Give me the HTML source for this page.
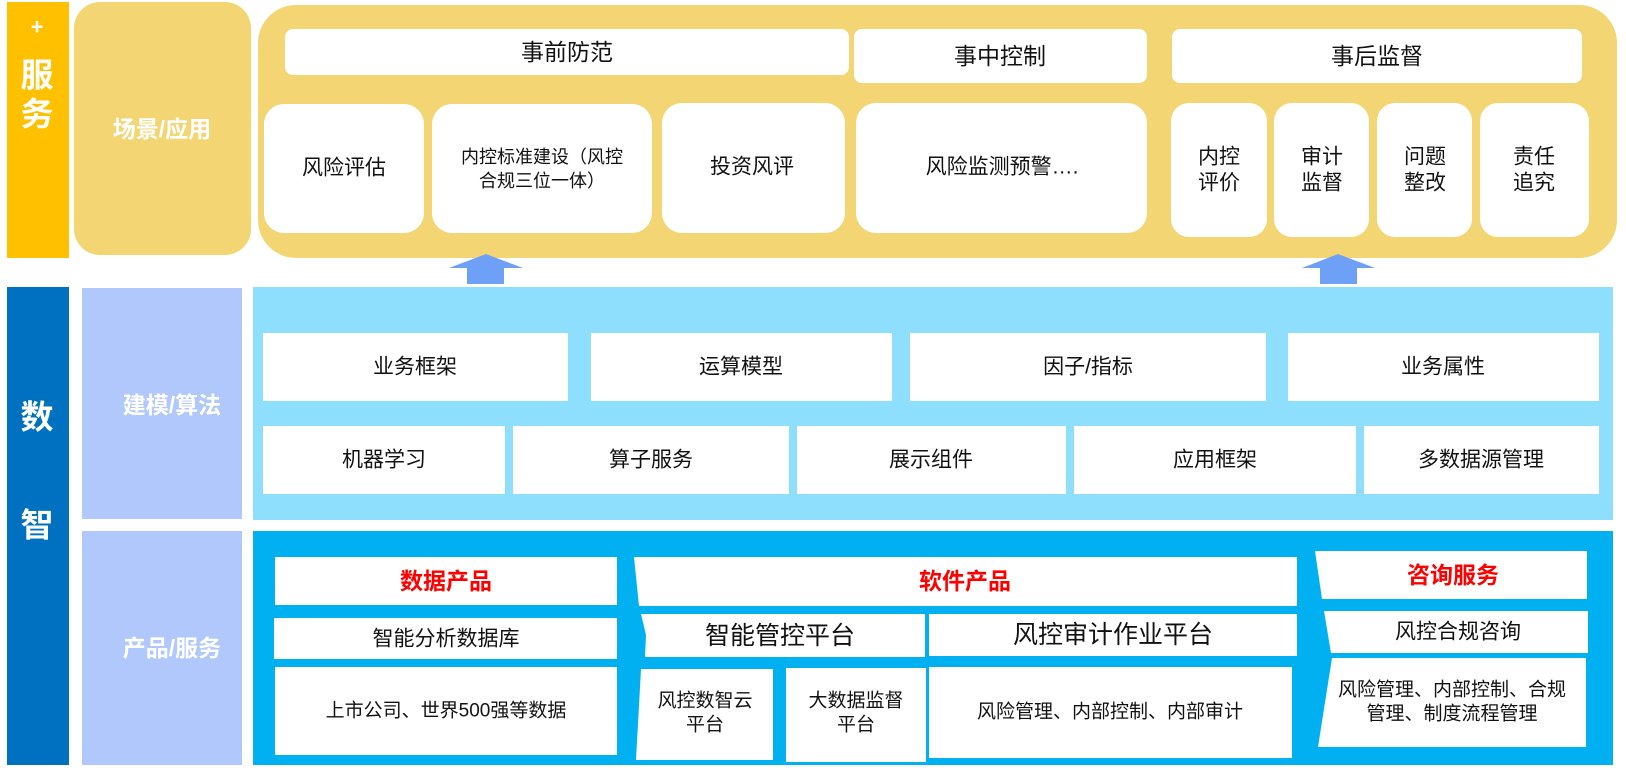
<!DOCTYPE html>
<html><head><meta charset="utf-8"><style>
html,body{margin:0;padding:0;background:#fff;}
svg{display:block;}
text{font-family:"Liberation Sans","Noto Sans CJK SC",sans-serif;text-anchor:middle;dominant-baseline:central;}
.w{fill:#fff;font-weight:bold;}
.k{fill:#111;}
.r{fill:#ff0000;font-weight:bold;}
</style></head><body>
<svg width="1626" height="770" viewBox="0 0 1626 770" xmlns="http://www.w3.org/2000/svg">
<rect x="7" y="2" width="62" height="256" fill="#ffc000"/>
<text class="w" x="37" y="27" font-size="22">+</text>
<text class="w" x="37" y="75" font-size="33">服</text>
<text class="w" x="37" y="114" font-size="33">务</text>
<rect x="74" y="2" width="177" height="253" rx="26" fill="#f3d574"/>
<text class="w" x="162" y="129" font-size="23">场景/应用</text>
<rect x="258" y="5" width="1359" height="253" rx="38" fill="#f3d574"/>
<rect x="285" y="29" width="564" height="46" rx="8" fill="#fff"/>
<text class="k" x="567" y="52" font-size="23">事前防范</text>
<rect x="854" y="29" width="293" height="54" rx="8" fill="#fff"/>
<text class="k" x="1000" y="56" font-size="23">事中控制</text>
<rect x="1172" y="29" width="410" height="54" rx="8" fill="#fff"/>
<text class="k" x="1377" y="56" font-size="23">事后监督</text>
<rect x="264" y="104" width="160" height="129" rx="20" fill="#fff"/>
<text class="k" x="344" y="168" font-size="21">风险评估</text>
<rect x="432" y="104" width="220" height="129" rx="20" fill="#fff"/>
<text class="k" x="542" y="157" font-size="18">内控标准建设（风控</text>
<text class="k" x="542" y="181" font-size="18">合规三位一体）</text>
<rect x="662" y="103" width="183" height="130" rx="20" fill="#fff"/>
<text class="k" x="752" y="167" font-size="21">投资风评</text>
<rect x="856" y="103" width="291" height="130" rx="20" fill="#fff"/>
<text class="k" x="1002" y="167" font-size="21">风险监测预警….</text>
<rect x="1171" y="103" width="96" height="134" rx="18" fill="#fff"/>
<text class="k" x="1219" y="157" font-size="21">内控</text><text class="k" x="1219" y="183" font-size="21">评价</text>
<rect x="1274" y="103" width="95" height="134" rx="18" fill="#fff"/>
<text class="k" x="1322" y="157" font-size="21">审计</text><text class="k" x="1322" y="183" font-size="21">监督</text>
<rect x="1377" y="103" width="95" height="134" rx="18" fill="#fff"/>
<text class="k" x="1425" y="157" font-size="21">问题</text><text class="k" x="1425" y="183" font-size="21">整改</text>
<rect x="1480" y="103" width="109" height="134" rx="18" fill="#fff"/>
<text class="k" x="1534" y="157" font-size="21">责任</text><text class="k" x="1534" y="183" font-size="21">追究</text>
<polygon points="486,254 523,268 504,268 504,284 467,284 467,268 449,268" fill="#6ea0f8"/>
<polygon points="1338,254 1375,268 1357,268 1357,284 1320,284 1320,268 1302,268" fill="#6ea0f8"/>
<rect x="7" y="287" width="62" height="478" fill="#0070c0"/>
<text class="w" x="37" y="417" font-size="33">数</text>
<text class="w" x="37" y="525" font-size="33">智</text>
<rect x="82" y="288" width="160" height="231" fill="#b0c8fc"/>
<text class="w" x="172" y="405" font-size="23">建模/算法</text>
<rect x="82" y="531" width="160" height="234" fill="#b0c8fc"/>
<text class="w" x="172" y="648" font-size="23">产品/服务</text>
<rect x="253" y="287" width="1360" height="233" fill="#8ddffd"/>
<rect x="263" y="333" width="305" height="68" fill="#fff"/><text class="k" x="415" y="367" font-size="21">业务框架</text>
<rect x="591" y="333" width="301" height="68" fill="#fff"/><text class="k" x="741" y="367" font-size="21">运算模型</text>
<rect x="910" y="333" width="356" height="68" fill="#fff"/><text class="k" x="1088" y="367" font-size="21">因子/指标</text>
<rect x="1288" y="333" width="311" height="68" fill="#fff"/><text class="k" x="1443" y="367" font-size="21">业务属性</text>
<rect x="263" y="426" width="242" height="68" fill="#fff"/><text class="k" x="384" y="460" font-size="21">机器学习</text>
<rect x="513" y="426" width="276" height="68" fill="#fff"/><text class="k" x="651" y="460" font-size="21">算子服务</text>
<rect x="797" y="426" width="269" height="68" fill="#fff"/><text class="k" x="931" y="460" font-size="21">展示组件</text>
<rect x="1074" y="426" width="282" height="68" fill="#fff"/><text class="k" x="1215" y="460" font-size="21">应用框架</text>
<rect x="1364" y="426" width="235" height="68" fill="#fff"/><text class="k" x="1481" y="460" font-size="21">多数据源管理</text>
<rect x="253" y="531" width="1360" height="234" fill="#00b0f0"/>
<rect x="275" y="557" width="342" height="48" fill="#fff"/><text class="r" x="446" y="581" font-size="23">数据产品</text>
<rect x="274" y="618" width="343" height="41" fill="#fff"/><text class="k" x="446" y="639" font-size="21">智能分析数据库</text>
<rect x="275" y="667" width="342" height="88" fill="#fff"/><text class="k" x="446" y="711" font-size="19">上市公司、世界500强等数据</text>
<polygon points="634,557 1297,557 1297,606 639,606" fill="#fff"/><text class="r" x="965" y="581" font-size="23">软件产品</text>
<polygon points="641,614 925,614 925,657 645,657 646,635" fill="#fff"/><text class="k" x="780" y="636" font-size="25">智能管控平台</text>
<rect x="929" y="614" width="368" height="42" fill="#fff"/><text class="k" x="1113" y="635" font-size="25">风控审计作业平台</text>
<polygon points="641,669 773,669 773,760 636,760" fill="#fff"/>
<text class="k" x="705" y="701" font-size="19">风控数智云</text><text class="k" x="705" y="725" font-size="19">平台</text>
<rect x="786" y="668" width="140" height="94" fill="#fff"/>
<text class="k" x="856" y="701" font-size="19">大数据监督</text><text class="k" x="856" y="725" font-size="19">平台</text>
<rect x="929" y="667" width="363" height="91" fill="#fff"/><text class="k" x="1110" y="712" font-size="19">风险管理、内部控制、内部审计</text>
<polygon points="1315,551 1587,551 1587,599 1322,599" fill="#fff"/><text class="r" x="1453" y="575" font-size="23">咨询服务</text>
<polygon points="1324,611 1588,611 1588,653 1331,653" fill="#fff"/><text class="k" x="1458" y="632" font-size="21">风控合规咨询</text>
<polygon points="1332,658 1586,658 1586,747 1318,747" fill="#fff"/>
<text class="k" x="1452" y="690" font-size="19">风险管理、内部控制、合规</text>
<text class="k" x="1452" y="714" font-size="19">管理、制度流程管理</text>
</svg>
</body></html>
